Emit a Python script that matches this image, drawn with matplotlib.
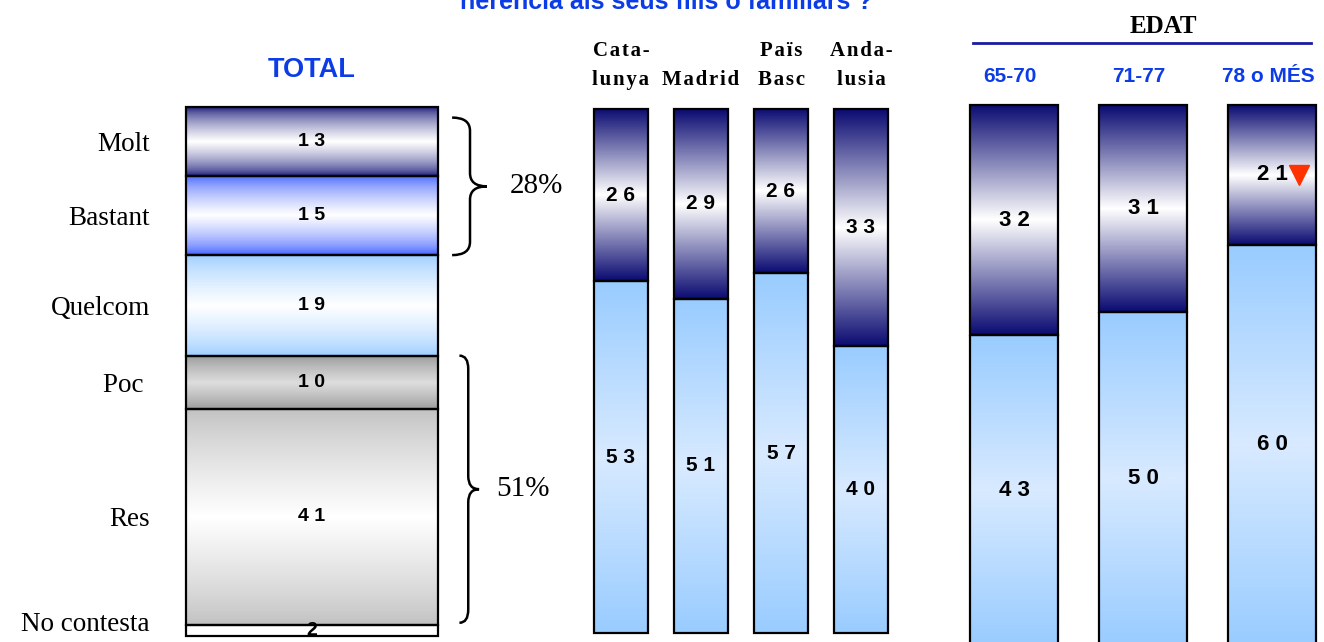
import numpy as np
import matplotlib
matplotlib.use("Agg")
import matplotlib.pyplot as plt
from matplotlib.colors import LinearSegmentedColormap
from matplotlib.path import Path
from matplotlib.patches import PathPatch
from matplotlib.lines import Line2D
from matplotlib import transforms

# ---- data ----
total_labels = ["Molt", "Bastant", "Quelcom", "Poc ", "Res", "No contesta"]
total_values = [13, 15, 19, 10, 41, 2]

region_labels = [("Cata-", "lunya"), ("", "Madrid"), ("Païs", "Basc"), ("Anda-", "lusia")]
region_molt_bastant = [26, 29, 26, 33]
region_poc_res = [53, 51, 57, 40]

age_labels = ["65-70", "71-77", "78 o MÉS"]
age_molt_bastant = [32, 31, 21]
age_poc_res = [43, 50, 60]
age_signif_down = [False, False, True]

BLUE = "#0c3ce6"
NAVY = "#0b0b72"
SANS = "Liberation Sans"
SERIF = "Liberation Serif"
W, H = 1324, 642

fig = plt.figure(figsize=(W / 100, H / 100), dpi=100)


def px_axes(left, top, right, bottom):
    ax = fig.add_axes([left / W, 1 - bottom / H, (right - left) / W, (bottom - top) / H])
    ax.axis("off")
    return ax


def shade(ax, bar, edge, mid, power=1.0):
    # vertical gradient: edge colour at top/bottom, mid colour in the middle
    t = np.linspace(0, 1, 300)
    f = (1 - np.abs(2 * t - 1)) ** power
    cmap = LinearSegmentedColormap.from_list("g", [edge, mid])
    x, y = bar.get_x(), bar.get_y()
    w, h = bar.get_width(), bar.get_height()
    ax.imshow(f[:, None], extent=(x, x + w, y + h, y), cmap=cmap, vmin=0, vmax=1,
              aspect="auto", interpolation="bilinear", zorder=1)


def spaced(v):
    return " ".join(str(v))


def fig_y(px):
    return 1 - px / H


# ---- TOTAL bar ----
ax_t = px_axes(186, 107, 438, 636)
bottoms = np.concatenate([[0], np.cumsum(total_values)[:-1]])
styles = [(NAVY, "white", 0.6), ("#3355ff", "white", 0.6), ("#99ccff", "white", 0.7),
          ("#9a9a9a", "#dddddd", 0.8), ("#c0c0c0", "white", 0.8), ("white", "white", 1.0)]
bars = ax_t.bar([0] * len(total_values), total_values, bottom=bottoms, width=1,
                facecolor="none", edgecolor="black", lw=1.6, zorder=2, clip_on=False)
for bar, (e, m, p) in zip(bars, styles):
    shade(ax_t, bar, e, m, p)
blend_t = transforms.blended_transform_factory(ax_t.transAxes, ax_t.transData)
for lab, v, b in zip(total_labels, total_values, bottoms):
    ax_t.text(0, b + v / 2, spaced(v), ha="center", va="center", fontsize=14,
              fontweight="bold", family=SANS, zorder=3)
    # keep the last label inside the picture
    ax_t.text(-0.143, min(b + v / 2, 97.3), lab, ha="right", va="center_baseline",
              fontsize=19.5, family=SERIF, transform=blend_t)
ax_t.set_xlim(-0.5, 0.5)
ax_t.set_ylim(100, 0)
ax_t.text(0, fig_y(77), "TOTAL", ha="center", va="baseline", fontsize=19.5, fontweight="bold",
          color=BLUE, family=SANS,
          transform=transforms.blended_transform_factory(ax_t.transData, fig.transFigure))


def brace(ax, y0, y1, x0, xm, xt, r):
    ym = (y0 + y1) / 2
    verts = [(x0, y0), (xm, y0), (xm, y0 + r), (xm, ym - r), (xm, ym), (xt, ym),
             (xm, ym), (xm, ym + r), (xm, y1 - r), (xm, y1), (x0, y1)]
    codes = [Path.MOVETO, Path.CURVE3, Path.CURVE3, Path.LINETO, Path.CURVE3, Path.CURVE3,
             Path.CURVE3, Path.CURVE3, Path.LINETO, Path.CURVE3, Path.CURVE3]
    ax.add_patch(PathPatch(Path(verts, codes), fill=False, lw=1.8, edgecolor="black",
                           transform=blend_t, clip_on=False))


# braces grouping Molt+Bastant and Poc+Res
groups = [(0, 1, 2.0, 0.0, 1.056, 1.127, 1.194, 1.286),
          (3, 4, 0.0, 0.5, 1.085, 1.12, 1.163, 1.232)]
for i, j, pad_top, pad_bot, x0, xm, xt, xtxt in groups:
    y0 = bottoms[i] + pad_top
    y1 = bottoms[j] + total_values[j] - pad_bot
    brace(ax_t, y0, y1, x0, xm, xt, 2.5)
    pct = total_values[i] + total_values[j]
    ax_t.text(xtxt, (y0 + y1) / 2, f"{pct}%", ha="left", va="center", fontsize=21,
              family=SERIF, transform=blend_t)


# ---- stacked share bars (region / age) ----
def share_panel(ax, top_vals, bot_vals, width, fs):
    top_vals = np.array(top_vals, dtype=float)
    bot_vals = np.array(bot_vals, dtype=float)
    tot = top_vals + bot_vals
    top_share = top_vals / tot * 100
    bot_share = bot_vals / tot * 100
    x = np.arange(len(tot))
    b1 = ax.bar(x, top_share, width=width, facecolor="none", edgecolor="black", lw=1.6,
                zorder=2, clip_on=False)
    b2 = ax.bar(x, bot_share, bottom=top_share, width=width, facecolor="none",
                edgecolor="black", lw=1.6, zorder=2, clip_on=False)
    for bar in b1:
        shade(ax, bar, NAVY, "white", 1.0)
    for bar in b2:
        shade(ax, bar, "#99ccff", "#d8eaff", 1.0)
    for i in x:
        ax.text(i, top_share[i] / 2, spaced(int(top_vals[i])), ha="center", va="center",
                fontsize=fs, fontweight="bold", family=SANS, zorder=3)
        ax.text(i, top_share[i] + bot_share[i] / 2, spaced(int(bot_vals[i])), ha="center",
                va="center", fontsize=fs, fontweight="bold", family=SANS, zorder=3)
    ax.set_xlim(-width / 2, len(tot) - 1 + width / 2)
    ax.set_ylim(100, 0)
    return top_share


ax_r = px_axes(594, 109, 888, 633)
share_panel(ax_r, region_molt_bastant, region_poc_res, 0.675, 15)
blend_r = transforms.blended_transform_factory(ax_r.transData, fig.transFigure)
for i, (l1, l2) in enumerate(region_labels):
    for txt, base in ((l1, 56), (l2, 85)):
        if txt:
            ax_r.text(i, fig_y(base), "\u200a".join(txt), ha="center", va="baseline",
                      fontsize=15, fontweight="bold", family=[SERIF, "DejaVu Serif"],
                      transform=blend_r)

ax_a = px_axes(970, 105, 1316, 645)
age_top = share_panel(ax_a, age_molt_bastant, age_poc_res, 0.682, 16)
blend_a = transforms.blended_transform_factory(ax_a.transData, fig.transFigure)
for i, lab in enumerate(age_labels):
    ax_a.text(i - 0.03, fig_y(82), lab, ha="center", va="baseline", fontsize=15,
              fontweight="bold", color=BLUE, family=SANS, transform=blend_a)
    if age_signif_down[i]:
        ax_a.plot(i + 0.21, age_top[i] / 2, marker="v", ms=14, color="#ff3300",
                  zorder=4, clip_on=False)

fig.text(1163 / W, fig_y(33), "EDAT", ha="center", va="baseline", fontsize=18,
         fontweight="bold", family=SERIF)
fig.add_artist(Line2D([973 / W, 1311 / W], [fig_y(43)] * 2, color="#1c1ca0", lw=2))

# only the last line of the question shows at the top edge of the reference
fig.text(666 / W, fig_y(9), "herència als seus fills o familiars ?", ha="center",
         va="baseline", fontsize=18, fontweight="bold", color=BLUE, family=SANS)

fig.savefig("out.png", dpi=100)
